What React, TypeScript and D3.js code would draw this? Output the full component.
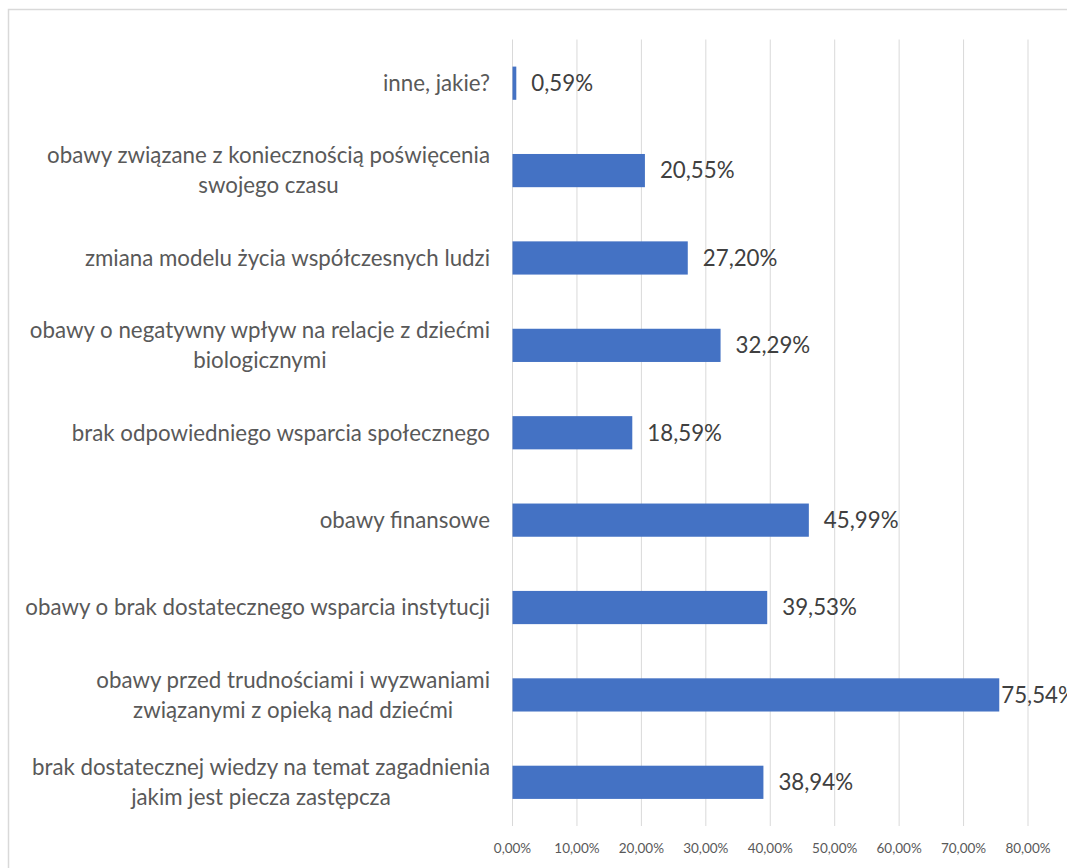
import React, { useEffect, useRef } from "react";
import * as d3 from "d3";

const categories: string[] = [
  "inne, jakie?",
  "obawy związane z koniecznością poświęcenia\nswojego czasu",
  "zmiana modelu życia współczesnych ludzi",
  "obawy o negatywny wpływ na relacje z dziećmi\nbiologicznymi",
  "brak odpowiedniego wsparcia społecznego",
  "obawy finansowe",
  "obawy o brak dostatecznego wsparcia instytucji",
  "obawy przed trudnościami i wyzwaniami\nzwiązanymi z opieką nad dziećmi",
  "brak dostatecznej wiedzy na temat zagadnienia\njakim jest piecza zastępcza",
];
const values: number[] = [0.59, 20.55, 27.2, 32.29, 18.59, 45.99, 39.53, 75.54, 38.94];
const ticks: number[] = [0, 10, 20, 30, 40, 50, 60, 70, 80];

const W = 1067;
const H = 868;
const FONT = "Lato, 'Open Sans', sans-serif";
const LABEL_SIZE = 22.3;

export default function App() {
  const ref = useRef<SVGSVGElement>(null);
  useEffect(() => {
    const svg = d3.select(ref.current);
    svg.selectAll("*").remove();

    const x = d3.scaleLinear().domain([0, 80]).range([512.5, 1028]);
    const y = d3
      .scaleBand<string>()
      .domain(categories)
      .range([39.5, 826])
      .paddingInner(0.62)
      .paddingOuter(0.31);

    // border
    svg
      .append("rect")
      .attr("x", 8.5)
      .attr("y", 9.5)
      .attr("width", W + 20)
      .attr("height", H + 20)
      .attr("fill", "white")
      .attr("stroke", "#d9d9d9")
      .attr("stroke-width", 1.5);

    // gridlines
    svg
      .append("g")
      .selectAll("line")
      .data(ticks)
      .join("line")
      .attr("x1", (d) => x(d))
      .attr("x2", (d) => x(d))
      .attr("y1", 39.5)
      .attr("y2", 826)
      .attr("stroke", "#d9d9d9")
      .attr("stroke-width", 1);

    // tick labels
    const fmt = (v: number) => d3.format(".2f")(v).replace(".", ",") + "%";
    svg
      .append("g")
      .selectAll("text")
      .data(ticks)
      .join("text")
      .attr("x", (d) => x(d))
      .attr("y", 853)
      .attr("text-anchor", "middle")
      .attr("font-family", FONT)
      .attr("font-size", 13.5)
      .attr("fill", "#595959")
      .text((d) => fmt(d));

    // bars
    svg
      .append("g")
      .selectAll("rect")
      .data(categories)
      .join("rect")
      .attr("x", x(0))
      .attr("y", (d) => y(d)!)
      .attr("width", (d, i) => x(values[i]) - x(0))
      .attr("height", y.bandwidth())
      .attr("fill", "#4472C4");

    // value labels
    const vl = svg
      .append("g")
      .selectAll("text")
      .data(categories)
      .join("text")
      .attr("y", (d) => y(d)! + y.bandwidth() / 2)
      .attr("dy", "0.35em")
      .attr("font-family", FONT)
      .attr("font-size", LABEL_SIZE)
      .attr("fill", "#404040")
      .text((d, i) => fmt(values[i]));
    vl.each(function (d, i) {
      const t = this as SVGTextElement;
      const w = t.getComputedTextLength();
      const end = x(values[i]);
      const px = Math.max(end + 2, Math.min(end + 15, W - w));
      d3.select(t).attr("x", px);
    });

    // category labels
    const lineH = 30;
    const right = 490;
    categories.forEach((c) => {
      const lines = c.split("\n");
      const g = svg.append("g");
      const cy = y(c)! + y.bandwidth() / 2;
      const texts = lines.map((ln, k) =>
        g
          .append("text")
          .attr("y", cy + (k - (lines.length - 1) / 2) * lineH)
          .attr("dy", "0.35em")
          .attr("text-anchor", "middle")
          .attr("font-family", FONT)
          .attr("font-size", LABEL_SIZE)
          .attr("fill", "#595959")
          .text(ln)
      );
      const maxW = d3.max(texts, (t) => (t.node() as SVGTextElement).getComputedTextLength()) || 0;
      texts.forEach((t) => t.attr("x", right - maxW / 2));
    });
  }, []);

  return (
    <svg
      ref={ref}
      width={W}
      height={H}
      style={{ position: "absolute", left: 0, top: 0, display: "block" }}
    />
  );
}
